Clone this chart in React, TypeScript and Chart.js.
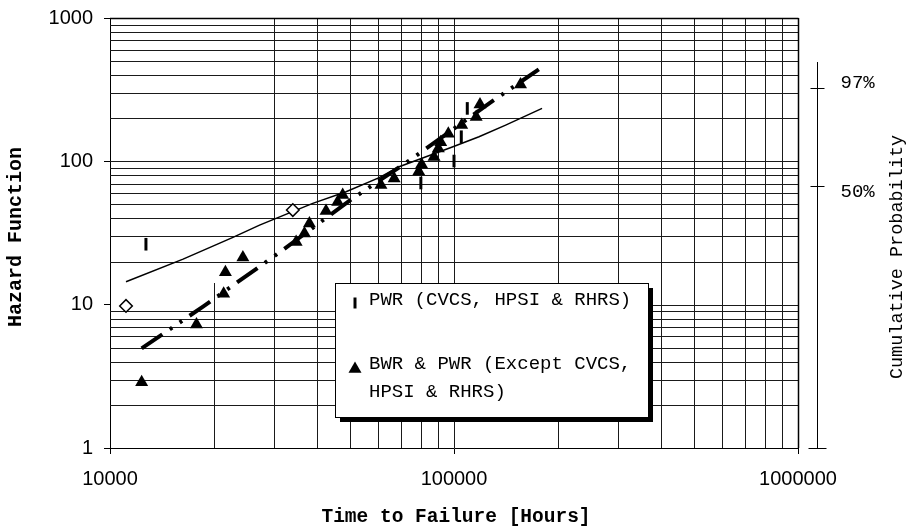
import { useEffect, useRef } from 'react';
import { Chart, registerables } from 'chart.js';

Chart.register(...registerables);

const W = 909;
const H = 527;

// Axis ticks
const hourTicks = [10000, 100000, 1000000];
const hazardTicks = [1, 10, 100, 1000];
const minorSteps = [2, 3, 4, 5, 6, 7, 8, 9];

// BWR & PWR (Except CVCS, HPSI & RHRS)
const bwrHours = [12360, 17840, 21400, 21650, 24340, 34760, 36750, 37990, 42460, 45900, 47470, 61320, 66990, 79000, 80500, 87500, 90050, 91500, 96270, 105300, 116000, 119000, 156100];
const bwrHazard = [2.87, 7.26, 11.9, 16.8, 21.3, 27.4, 31.4, 36.8, 45.0, 52.0, 58.2, 68.3, 75.9, 85, 95, 107, 122.8, 136, 156, 179, 204, 249, 343];

// PWR (CVCS, HPSI & RHRS)
const pwrHours = [12720, 80100, 100000, 105000, 109300];
const pwrHazard = [26.4, 70.6, 100.5, 148.5, 234];

// Open diamonds
const openHours = [11130, 34000];
const openHazard = [9.8, 45.7];

// Thin solid curve
const solidHours = [11130, 16310, 22770, 27210, 38850, 48540, 60620, 69270, 98870, 118200, 141300, 180300];
const solidHazard = [14.45, 20.8, 29.5, 35.9, 50.9, 61.4, 77, 91.7, 126, 148.5, 179, 234];

// Heavy dash-dot fit
const fitHours = [12360, 18640, 31450, 49600, 74000, 129000, 176400];
const fitHazard = [4.95, 9.7, 23.6, 53, 101, 262, 438];

// Cumulative probability axis (positions given on the hazard scale)
const probLabels = ['97%', '50%'];
const probHazard = [325, 67];
const probAxisTop = 493;

const legendRows = ['PWR (CVCS, HPSI & RHRS)', 'BWR & PWR (Except CVCS,', 'HPSI & RHRS)'];

const pts = (xs: number[], ys: number[]) => xs.map((x, i) => ({ x, y: ys[i] }));

const MONO = '"Liberation Mono", "Courier New", monospace';
const SANS = '"Liberation Sans", Arial, sans-serif';

function keyBox(a: any) {
  return { l: a.left + 225, t: a.top + 265, w: 313, h: 134 };
}

function line(ctx: CanvasRenderingContext2D, x1: number, y1: number, x2: number, y2: number) {
  ctx.beginPath();
  ctx.moveTo(x1, y1);
  ctx.lineTo(x2, y2);
  ctx.stroke();
}

const decor = {
  id: 'decor',
  beforeDatasetsDraw(chart: any) {
    const { ctx, chartArea: a, scales } = chart;
    const xs = scales.x;
    const ys = scales.y;
    const key = keyBox(a);
    ctx.save();
    ctx.strokeStyle = '#1a1a1a';
    ctx.lineWidth = 1;
    // vertical grid
    hourTicks.slice(0, -1).forEach((d) => {
      [1, ...minorSteps].forEach((m) => {
        const v = d * m;
        if (v <= hourTicks[0]) return;
        const px = Math.round(xs.getPixelForValue(v)) + 0.5;
        const top = v === 20000 ? key.t : a.top;
        line(ctx, px, top, px, a.bottom);
      });
    });
    // horizontal grid
    hazardTicks.slice(0, -1).forEach((d) => {
      [1, ...minorSteps].forEach((m) => {
        const v = d * m;
        if (v <= hazardTicks[0]) return;
        const py = Math.round(ys.getPixelForValue(v)) + 0.5;
        const left = v === 10 ? key.l : a.left;
        line(ctx, left, py, a.right, py);
      });
    });
    // frame
    ctx.strokeStyle = '#000';
    ctx.lineWidth = 1.5;
    line(ctx, a.left, a.top + 0.5, a.right + 0.5, a.top + 0.5);
    line(ctx, a.right + 0.5, a.top, a.right + 0.5, a.bottom);
    ctx.restore();
  },
  afterDatasetsDraw(chart: any) {
    const { ctx, chartArea: a } = chart;
    const k = keyBox(a);
    ctx.save();
    ctx.fillStyle = '#000';
    ctx.fillRect(k.l + 5, k.t + 5, k.w, k.h);
    ctx.fillStyle = '#fff';
    ctx.fillRect(k.l, k.t, k.w, k.h);
    ctx.strokeStyle = '#000';
    ctx.lineWidth = 1;
    ctx.strokeRect(k.l + 0.5, k.t + 0.5, k.w, k.h);

    // key markers
    ctx.lineWidth = 3;
    line(ctx, k.l + 20, k.t + 14.5, k.l + 20, k.t + 25.5);
    ctx.beginPath();
    const cx = k.l + 20;
    const cy = k.t + 86;
    ctx.moveTo(cx, cy - 7.5);
    ctx.lineTo(cx + 6.5, cy + 3.75);
    ctx.lineTo(cx - 6.5, cy + 3.75);
    ctx.closePath();
    ctx.fillStyle = '#000';
    ctx.fill();

    ctx.font = `19px ${MONO}`;
    ctx.textAlign = 'left';
    ctx.textBaseline = 'middle';
    ctx.fillText(legendRows[0], k.l + 34, k.t + 17);
    ctx.fillText(legendRows[1], k.l + 34, k.t + 81);
    ctx.fillText(legendRows[2], k.l + 34, k.t + 109);
    ctx.restore();
  },
  afterDraw(chart: any) {
    const { ctx, chartArea: a, scales } = chart;
    const ys = scales.y;
    ctx.save();
    ctx.fillStyle = '#000';
    ctx.strokeStyle = '#000';
    ctx.lineWidth = 1;

    // axis titles
    ctx.textAlign = 'center';
    ctx.textBaseline = 'middle';
    ctx.font = `bold 19.5px ${MONO}`;
    ctx.fillText('Time to Failure [Hours]', (a.left + a.right) / 2 + 2, 517);

    ctx.save();
    ctx.translate(16, (a.top + a.bottom) / 2 + 4);
    ctx.rotate(-Math.PI / 2);
    ctx.font = `bold 20px ${MONO}`;
    ctx.fillText('Hazard Function', 0, 0);
    ctx.restore();

    // cumulative probability axis
    const ax = Math.round(a.right + 19) + 0.5;
    line(ctx, ax, ys.getPixelForValue(probAxisTop), ax, a.bottom);
    line(ctx, ax - 9, a.bottom + 0.5, ax + 9, a.bottom + 0.5);
    ctx.font = `19px ${MONO}`;
    ctx.textAlign = 'left';
    const shift = [-6, 5];
    probHazard.forEach((h, i) => {
      const py = Math.round(ys.getPixelForValue(h)) + 0.5;
      line(ctx, ax - 7, py, ax + 7, py);
      ctx.fillText(probLabels[i], ax + 23, py + shift[i]);
    });

    ctx.save();
    ctx.translate(897, (a.top + a.bottom) / 2 + 24);
    ctx.rotate(-Math.PI / 2);
    ctx.textAlign = 'center';
    ctx.font = `18.5px ${MONO}`;
    ctx.fillText('Cumulative Probability', 0, 0);
    ctx.restore();

    ctx.restore();
  },
};

export default function App() {
  const ref = useRef<HTMLCanvasElement>(null);

  useEffect(() => {
    const chart = new Chart(ref.current as HTMLCanvasElement, {
      type: 'scatter',
      data: {
        datasets: [
          {
            label: 'BWR & PWR (Except CVCS, HPSI & RHRS)',
            data: pts(bwrHours, bwrHazard),
            pointStyle: 'triangle',
            pointRadius: 7.5,
            pointBackgroundColor: '#000',
            pointBorderColor: '#000',
            pointBorderWidth: 0,
            showLine: false,
          },
          {
            label: 'PWR (CVCS, HPSI & RHRS)',
            data: pts(pwrHours, pwrHazard),
            pointStyle: 'line',
            pointRotation: 90,
            pointRadius: 6.3,
            pointBorderColor: '#000',
            pointBorderWidth: 3,
            showLine: false,
          },
          {
            label: 'open',
            data: pts(openHours, openHazard),
            pointStyle: 'rectRot',
            pointRadius: 6.3,
            pointBackgroundColor: '#fff',
            pointBorderColor: '#000',
            pointBorderWidth: 1.5,
            showLine: false,
          },
          {
            label: 'solid',
            data: pts(solidHours, solidHazard),
            showLine: true,
            borderColor: '#000',
            borderWidth: 1.5,
            pointRadius: 0,
          },
          {
            label: 'fit',
            data: pts(fitHours, fitHazard),
            showLine: true,
            borderColor: '#000',
            borderWidth: 4,
            borderDash: [25, 9, 3, 9, 3, 9],
            borderCapStyle: 'butt',
            pointRadius: 0,
          },
        ],
      } as any,
      options: {
        responsive: false,
        animation: false,
        events: [],
        layout: { padding: { top: 18, right: 111, bottom: 0, left: 0 } },
        plugins: { legend: { display: false }, tooltip: { enabled: false } },
        scales: {
          x: {
            type: 'logarithmic',
            min: 10000,
            max: 1000000,
            afterBuildTicks: (s: any) => {
              s.ticks = hourTicks.map((v) => ({ value: v }));
            },
            afterFit: (s: any) => {
              s.height = 79;
              s.paddingLeft = 0;
              s.paddingRight = 0;
            },
            ticks: {
              autoSkip: false,
              maxRotation: 0,
              padding: 13,
              color: '#000',
              font: { family: SANS, size: 20 },
              callback: (v: any) => String(v),
            },
            grid: { drawOnChartArea: false, drawTicks: true, tickLength: 6, color: '#000' },
            border: { color: '#000', width: 1 },
          },
          y: {
            type: 'logarithmic',
            min: 1,
            max: 1000,
            afterBuildTicks: (s: any) => {
              s.ticks = hazardTicks.map((v) => ({ value: v }));
            },
            afterFit: (s: any) => {
              s.width = 110;
              s.paddingTop = 0;
              s.paddingBottom = 0;
            },
            ticks: {
              autoSkip: false,
              padding: 11,
              color: '#000',
              font: { family: SANS, size: 20 },
              callback: (v: any) => String(v),
            },
            grid: { drawOnChartArea: false, drawTicks: true, tickLength: 6, color: '#000' },
            border: { color: '#000', width: 1 },
          },
        },
      } as any,
      plugins: [decor],
    });
    return () => chart.destroy();
  }, []);

  return (
    <div style={{ position: 'absolute', left: 0, top: 0, width: W, height: H, background: '#fff' }}>
      <canvas ref={ref} width={W} height={H} style={{ display: 'block', width: W, height: H }} />
    </div>
  );
}
